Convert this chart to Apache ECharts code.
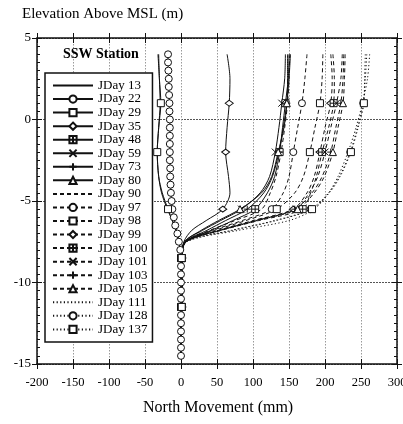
<!DOCTYPE html>
<html><head><meta charset="utf-8">
<script src="https://cdn.jsdelivr.net/npm/echarts@6/dist/echarts.min.js"></script>
<style>html,body{margin:0;padding:0;background:#fff}#c{width:403px;height:424px}</style>
</head><body><div id="c"></div><script>
// Elevations (m) at which each profile is sampled
const ELEV = [4, 2.5, 1, -0.5, -2, -3.5, -4.5, -5.5, -6.2, -6.8, -7.5, -8.5, -10, -11.5, -13, -14.5];
// Elevations where markers are drawn
const MARK_ELEV = [1, -2, -5.5, -8.5, -11.5];
// Dense elevations for JDay 22 (marker at every reading)
const ELEV_DENSE = [4, 3.5, 3, 2.5, 2, 1.5, 1, 0.5, 0, -0.5, -1, -1.5, -2, -2.5, -3, -3.5, -4, -4.5, -5, -5.5, -6, -6.5, -7, -7.5, -8, -8.5, -9, -9.5, -10, -10.5, -11, -11.5, -12, -12.5, -13, -13.5, -14, -14.5];

// North movement (mm)
const DAY13  = [-32, -30, -29, -31, -33, -31, -27, -19, -12, -7, -3, 0, 0, 0, 0, 0];
const DAY22  = [-18, -18, -17.5, -17, -17, -16.5, -16, -16, -15.5, -15.5, -15.5, -15.5, -15.5, -15.5, -15, -15, -14.5, -14, -13, -12, -10, -8, -5, -3, -1, 0, 0, 0, 0, 0, 0, 0, 0, 0, 0, 0, 0, 0];
const DAY29  = [-31, -30, -28, -31, -33, -31, -26, -18, -12, -7, -3, 0, 0, 0, 0, 0];
const DAY35  = [64, 68, 67, 64, 62, 66, 68, 58, 35, 15, 4, 1, 1, 1, 0, 0];
const DAY48  = [150, 149, 145, 141, 137, 130, 120, 103, 72, 42, 7, 1, 1, 1, 0, 0];
const DAY59  = [145, 144, 140, 136, 131, 123, 110, 84, 55, 30, 5, 1, 1, 1, 0, 0];
const DAY73  = [152, 150, 147, 142, 136, 127, 115, 92, 62, 36, 6, 1, 1, 1, 0, 0];
const DAY80  = [148, 148, 147, 143, 135, 126, 112, 82, 52, 28, 5, 1, 1, 1, 0, 0];
const DAY90  = [151, 150, 148, 144, 139, 132, 124, 112, 75, 40, 6, 1, 1, 1, 0, 0];
const DAY97  = [175, 172, 168, 162, 156, 150, 142, 126, 85, 44, 6, 1, 1, 1, 0, 0];
const DAY98  = [197, 196, 193, 186, 179, 170, 158, 133, 90, 47, 6, 1, 1, 1, 0, 0];
const DAY99  = [208, 210, 208, 200, 193, 185, 175, 156, 100, 52, 6, 1, 1, 1, 0, 0];
const DAY100 = [211, 213, 212, 205, 196, 188, 180, 169, 108, 56, 7, 1, 1, 1, 0, 0];
const DAY101 = [224, 222, 216, 208, 200, 190, 178, 160, 104, 54, 7, 1, 1, 1, 0, 0];
const DAY103 = [226, 225, 222, 215, 208, 196, 182, 158, 103, 53, 7, 1, 1, 1, 0, 0];
const DAY105 = [228, 227, 225, 218, 211, 199, 185, 162, 106, 55, 7, 1, 1, 1, 0, 0];
const DAY111 = [262, 259, 252, 243, 232, 218, 205, 185, 150, 80, 8, 1, 1, 1, 0, 0];
const DAY128 = [258, 256, 253, 245, 235, 220, 205, 180, 130, 70, 7, 1, 1, 1, 0, 0];
const DAY137 = [256, 255, 254, 246, 236, 221, 206, 182, 132, 72, 7, 1, 1, 1, 0, 0];

const X_TICKS = [-200, 300, 50];
const Y_TICKS = [-15, 5, 5];

const FONT = "'Liberation Serif', 'DejaVu Serif', serif";
const INK = '#111';
const SOLID = 'solid', DASH = [4, 3], DOT = [1.2, 2.4];
const SYM = {
  circle: 'circle',
  square: 'rect',
  diamond: 'diamond',
  hash: 'path://M0,0H10V10H0Z M5,0V10 M0,5H10',
  cross: 'path://M0,0L10,10M10,0L0,10',
  plus: 'path://M5,0V10M0,5H10',
  tri: 'triangle'
};

function mk(name, xs, elev, sym, dash, markAll) {
  const filled = (sym === SYM.cross || sym === SYM.plus);
  const none = !sym;
  return {
    type: 'line', name: name, smooth: 0.3, xAxisIndex: 0, yAxisIndex: 0,
    symbol: none ? 'circle' : sym, symbolSize: sym === SYM.diamond ? [8, 6] : 7, showSymbol: true,
    z: 3,
    lineStyle: { color: INK, width: 1, type: dash },
    itemStyle: none ? { color: 'rgba(0,0,0,0)', borderColor: 'rgba(0,0,0,0)', borderWidth: 0 }
                    : { color: filled ? INK : '#fff', borderColor: INK, borderWidth: 1 },
    emphasis: { disabled: true },
    data: xs.map((x, i) => ({
      value: [x, elev[i]],
      symbol: sym && (markAll || MARK_ELEV.indexOf(elev[i]) >= 0) ? sym : 'none'
    }))
  };
}

const series = [
  mk('JDay 13', DAY13, ELEV, null, SOLID),
  mk('JDay 22', DAY22, ELEV_DENSE, SYM.circle, SOLID, true),
  mk('JDay 29', DAY29, ELEV, SYM.square, SOLID),
  mk('JDay 35', DAY35, ELEV, SYM.diamond, SOLID),
  mk('JDay 48', DAY48, ELEV, SYM.hash, SOLID),
  mk('JDay 59', DAY59, ELEV, SYM.cross, SOLID),
  mk('JDay 73', DAY73, ELEV, SYM.plus, SOLID),
  mk('JDay 80', DAY80, ELEV, SYM.tri, SOLID),
  mk('JDay 90', DAY90, ELEV, null, DASH),
  mk('JDay 97', DAY97, ELEV, SYM.circle, DASH),
  mk('JDay 98', DAY98, ELEV, SYM.square, DASH),
  mk('JDay 99', DAY99, ELEV, SYM.diamond, DASH),
  mk('JDay 100', DAY100, ELEV, SYM.hash, DASH),
  mk('JDay 101', DAY101, ELEV, SYM.cross, DASH),
  mk('JDay 103', DAY103, ELEV, SYM.plus, DASH),
  mk('JDay 105', DAY105, ELEV, SYM.tri, DASH),
  mk('JDay 111', DAY111, ELEV, null, DOT),
  mk('JDay 128', DAY128, ELEV, SYM.circle, DOT),
  mk('JDay 137', DAY137, ELEV, SYM.square, DOT)
];

const axisLine = { show: true, onZero: false, lineStyle: { color: INK, width: 1.5 } };
const noLine = { show: false, onZero: false };
function xa(pos, inside, labels, split) {
  return {
    type: 'value', position: pos, min: X_TICKS[0], max: X_TICKS[1], interval: X_TICKS[2],
    axisLine: (labels || !inside) ? axisLine : noLine,
    axisTick: { show: true, inside: inside, length: 5, lineStyle: { color: INK, width: 1 } },
    axisLabel: labels ? { show: true, fontFamily: FONT, fontSize: 12.5, color: '#000', margin: 12 } : { show: false },
    splitLine: split ? { show: true, lineStyle: { color: '#9a9a9a', width: 1, type: [1.5, 1.5] } } : { show: false }
  };
}
function ya(pos, inside, labels, split, minor) {
  return {
    type: 'value', position: pos, min: Y_TICKS[0], max: Y_TICKS[1], interval: Y_TICKS[2],
    axisLine: (!inside) ? axisLine : noLine,
    axisTick: { show: true, inside: inside, length: 5, lineStyle: { color: INK, width: 1 } },
    minorTick: minor ? { show: true, splitNumber: 10, length: 3, lineStyle: { color: INK, width: 1 } } : { show: false },
    axisLabel: labels ? { show: true, fontFamily: FONT, fontSize: 13, color: '#000', margin: 6 } : { show: false },
    splitLine: split ? { show: true, lineStyle: { color: '#555', width: 1, type: [2, 1] } } : { show: false }
  };
}

const chart = echarts.init(document.getElementById('c'), null, { renderer: 'canvas' });
chart.setOption({
  animation: false,
  backgroundColor: '#fff',
  title: [
    { text: 'Elevation Above MSL (m)', left: 22, top: 7, padding: 0, textStyle: { fontFamily: FONT, fontSize: 15, fontWeight: 'normal', color: '#000' } },
    { text: 'SSW Station', left: 63, top: 47, padding: 0, textStyle: { fontFamily: FONT, fontSize: 14, fontWeight: 'bold', color: '#000' } },
    { text: 'North Movement (mm)', left: 143, top: 400, padding: 0, textStyle: { fontFamily: FONT, fontSize: 16, fontWeight: 'normal', color: '#000' } }
  ],
  grid: { left: 37, right: 6, top: 38, bottom: 60, containLabel: false, outerBoundsMode: 'none' },
  legend: {
    orient: 'vertical', left: 45, top: 73,
    backgroundColor: '#fff', borderColor: INK, borderWidth: 1.5, borderRadius: 0,
    padding: [6, 5, 6, 7],
    itemWidth: 40, itemHeight: 9, itemGap: 0.55,
    textStyle: { fontFamily: FONT, fontSize: 13, lineHeight: 12, color: '#000' },
    data: series.map(s => s.name),
    selectedMode: false
  },
  xAxis: [xa('bottom', false, true, true), xa('bottom', true, false, false), xa('top', false, false, false), xa('top', true, false, false)],
  yAxis: [ya('left', false, true, true, false), ya('left', true, false, false, true), ya('right', true, false, false, true), ya('right', false, false, false, false)],
  series: series
});
</script></body></html>
